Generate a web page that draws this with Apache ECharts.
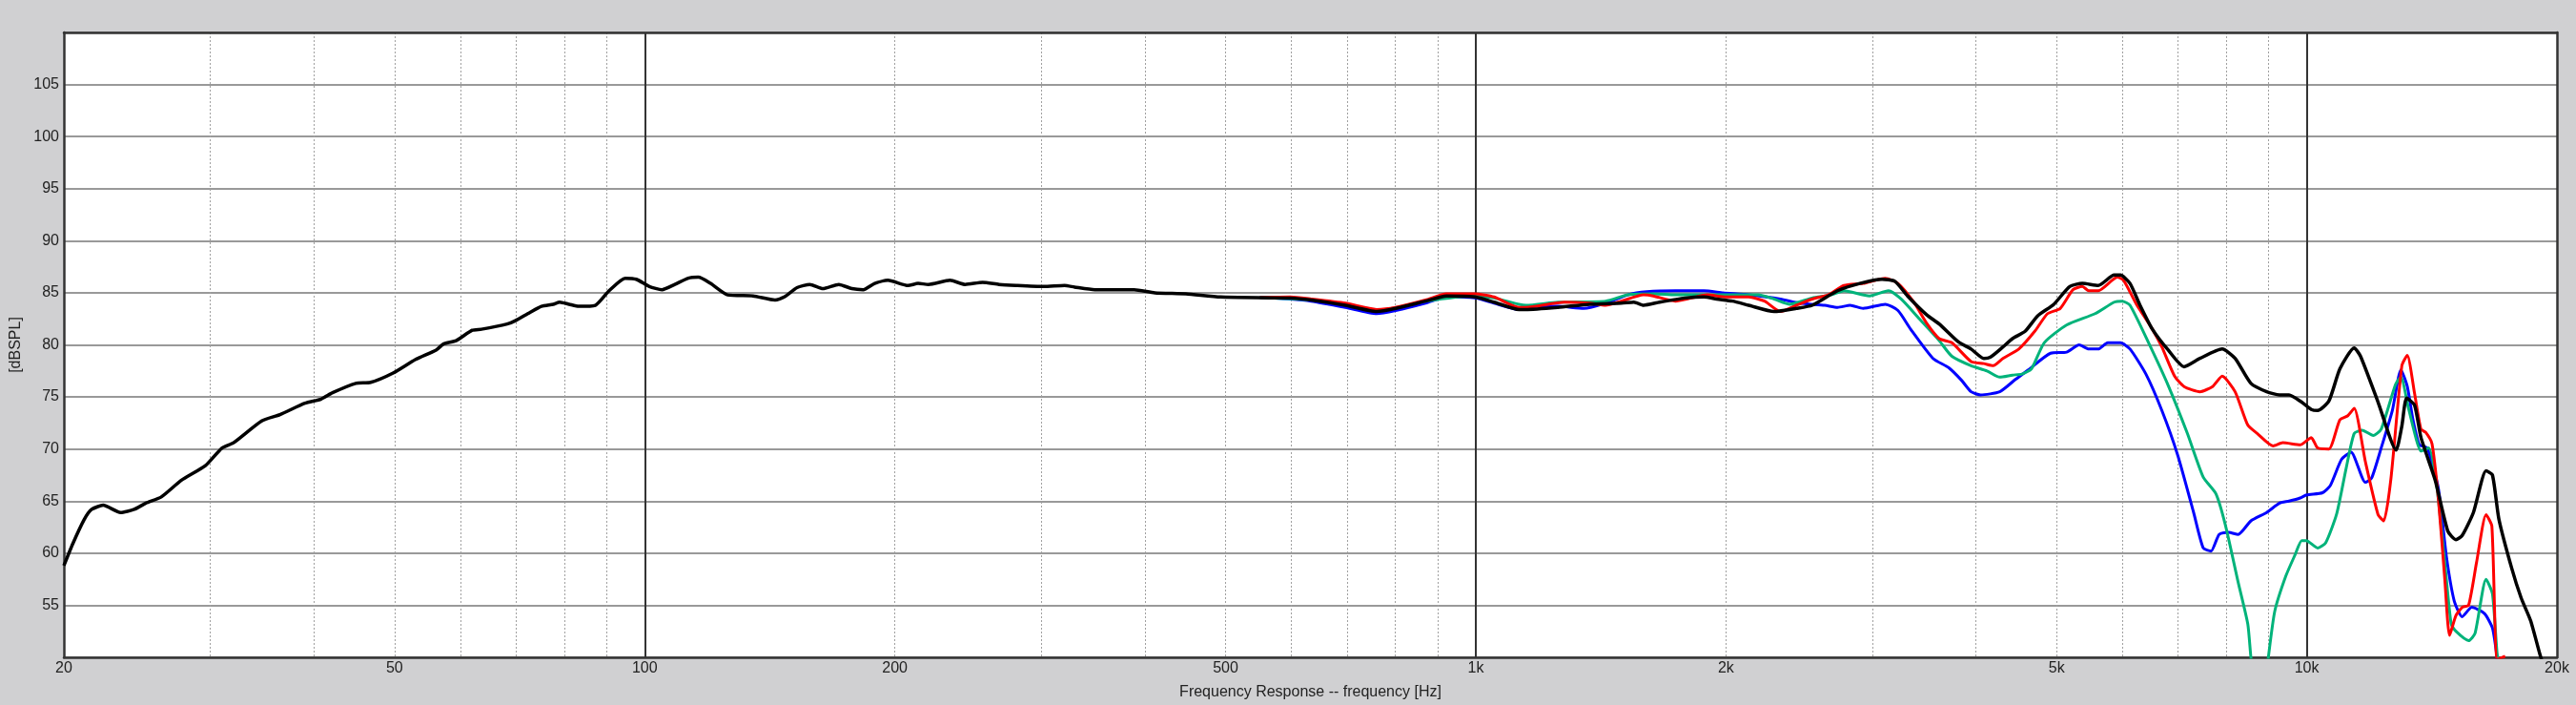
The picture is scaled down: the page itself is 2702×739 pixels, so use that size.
<!DOCTYPE html>
<html>
<head>
<meta charset="utf-8">
<script src="https://cdn.jsdelivr.net/npm/echarts@6/dist/echarts.min.js"></script>
<style>
html,body{margin:0;padding:0;background:#d0d0d2;}
#c{width:2702px;height:739px;}
</style>
</head>
<body>
<div id="c"></div>
<script>
// frequency tick labels (Hz)
var xLabelValues = [20, 50, 100, 200, 500, 1000, 2000, 5000, 10000, 20000];
// dotted minor grid frequencies
var xMinorValues = [30, 40, 50, 60, 70, 80, 90, 200, 300, 400, 500, 600, 700, 800, 900, 2000, 3000, 4000, 5000, 6000, 7000, 8000, 9000];
// solid decade grid frequencies
var xDecadeValues = [100, 1000, 10000];

// [frequency Hz, dBSPL]
var blackCurve = [[20,58.8],[20.5,60.9],[21.15,63.2],[21.6,64.2],[22.3,64.6],[23.4,63.9],[24.3,64.2],[25.1,64.8],[26.2,65.4],[27.7,67.0],[29.6,68.4],[31,70.1],[32,70.6],[34.6,72.7],[36.4,73.3],[39,74.4],[40.8,74.8],[42.1,75.4],[44.9,76.3],[46.8,76.4],[49.8,77.3],[53,78.6],[56.1,79.5],[57.3,80.1],[59.3,80.4],[62,81.4],[63.6,81.5],[68.3,82.0],[69.8,82.3],[72.7,83.1],[75.1,83.7],[77.6,83.9],[79,84.1],[81.1,83.9],[83.3,83.7],[87.2,83.8],[90.6,85.2],[94.7,86.4],[97.7,86.3],[101.3,85.6],[104.9,85.3],[108.7,85.8],[112.8,86.4],[116,86.5],[120,85.9],[125.8,84.8],[135,84.7],[143.5,84.3],[147.2,84.6],[152.5,85.5],[158,85.8],[163.8,85.4],[171.2,85.8],[177.5,85.4],[183.2,85.3],[189.1,85.9],[196.2,86.2],[207.4,85.7],[213.3,85.9],[219.5,85.8],[233,86.2],[243,85.8],[255,86.0],[267,85.8],[280,85.7],[302,85.6],[320,85.7],[329,85.55],[348,85.3],[388,85.3],[411,85.0],[448,84.9],[493,84.6],[598,84.5],[634,84.3],[697,83.8],[760,83.2],[801,83.5],[870,84.2],[922,84.7],[998,84.6],[1052,84.1],[1127,83.4],[1149,83.4],[1255,83.6],[1371,83.9],[1497,84.0],[1550,84.1],[1592,83.8],[1664,84.1],[1785,84.5],[1882,84.6],[1950,84.4],[2037,84.2],[2130,83.8],[2286,83.2],[2431,83.5],[2540,83.8],[2725,85.2],[2898,85.9],[3082,86.3],[3194,86.1],[3308,84.7],[3487,82.9],[3612,82.0],[3806,80.3],[3945,79.6],[4087,78.7],[4159,78.8],[4309,79.8],[4424,80.6],[4582,81.3],[4746,82.8],[4962,83.9],[5185,85.6],[5370,85.9],[5612,85.7],[5864,86.7],[5968,86.7],[6128,85.9],[6292,83.9],[6520,81.5],[6812,79.5],[7118,77.9],[7438,78.7],[7911,79.6],[8199,78.7],[8566,76.3],[8950,75.5],[9272,75.2],[9520,75.2],[9860,74.5],[10125,73.8],[10306,73.7],[10631,74.6],[10962,77.7],[11404,79.7],[11607,78.9],[12184,74.5],[12810,69.9],[13014,72.2],[13188,74.9],[13483,74.2],[13722,71.1],[14275,67.0],[14785,62.1],[15115,61.3],[15384,61.7],[15868,63.9],[16434,67.9],[16728,67.5],[17026,63.3],[17638,58.6],[18112,55.7],[18596,53.5],[19092,50.2],[19400,48.5]];

var redCurve = [[550,84.55],[598,84.6],[634,84.4],[697,84.0],[760,83.4],[801,83.6],[870,84.3],[922,84.9],[998,84.9],[1052,84.6],[1127,83.6],[1149,83.6],[1278,84.1],[1371,84.0],[1433,83.8],[1497,84.2],[1592,84.8],[1635,84.7],[1739,84.2],[1818,84.5],[1899,84.8],[2000,84.6],[2130,84.6],[2226,84.2],[2326,83.2],[2431,83.8],[2540,84.4],[2654,84.8],[2774,85.7],[2925,85.9],[3110,86.4],[3222,85.9],[3366,84.1],[3487,82.1],[3612,80.6],[3741,80.2],[3945,78.4],[4087,78.2],[4195,78.0],[4309,78.7],[4503,79.6],[4706,81.3],[4876,83.0],[5050,83.5],[5232,85.3],[5370,85.6],[5466,85.2],[5612,85.2],[5916,86.5],[6020,86.2],[6238,83.9],[6520,81.5],[6693,79.8],[6933,77.0],[7118,76.0],[7438,75.5],[7704,76.0],[7911,77.0],[8199,75.5],[8492,72.3],[8717,71.5],[9109,70.3],[9356,70.6],[9818,70.4],[10125,71.1],[10306,70.1],[10631,70.0],[10962,72.8],[11206,73.2],[11404,73.9],[11762,68.8],[12184,63.7],[12378,63.1],[12620,67.0],[13014,78.0],[13212,79.0],[13483,75.3],[13722,71.9],[13902,71.6],[14149,70.5],[14401,65.2],[14658,57.5],[14854,52.1],[15115,54.0],[15384,54.8],[15658,55.0],[16006,59.1],[16434,63.7],[16700,62.6],[16952,49.8],[17330,50.1]];

var greenCurve = [[550,84.55],[634,84.3],[697,83.9],[760,83.3],[870,84.2],[998,84.7],[1052,84.5],[1127,83.9],[1149,83.8],[1255,84.1],[1433,84.2],[1524,84.8],[1635,84.9],[1739,84.8],[1866,84.8],[1984,84.8],[2187,84.8],[2286,84.4],[2388,83.9],[2540,84.5],[2677,84.8],[2774,85.2],[2977,84.7],[3138,85.2],[3250,84.4],[3427,82.4],[3612,80.4],[3741,78.9],[3945,78.0],[4123,77.5],[4271,76.9],[4424,77.1],[4542,77.2],[4664,77.7],[4831,80.2],[5139,81.9],[5563,83.0],[5864,84.1],[5994,84.2],[6128,83.8],[6460,80.1],[6812,76.1],[7183,71.5],[7506,67.3],[7775,65.7],[7981,62.7],[8269,57.2],[8492,53.2],[8566,50.0],[8700,46.0],[8850,45.5],[8990,50.0],[9150,54.4],[9436,57.8],[9688,59.9],[9860,61.2],[9990,61.2],[10306,60.5],[10538,61.0],[10866,63.8],[11156,68.2],[11404,71.5],[11660,71.8],[12022,71.3],[12290,71.9],[12788,76.2],[12980,76.9],[13248,74.0],[13538,71.0],[13722,69.8],[14024,70.1],[14338,66.4],[14658,59.1],[14920,53.2],[15115,52.5],[15658,51.6],[15940,52.3],[16434,57.5],[16728,56.1],[16952,50.2],[17100,49.0]];

var blueCurve = [[550,84.55],[598,84.4],[634,84.2],[697,83.6],[760,83.0],[801,83.3],[870,84.0],[922,84.6],[998,84.5],[1052,84.0],[1127,83.4],[1149,83.7],[1255,83.7],[1349,83.5],[1433,84.0],[1524,84.8],[1606,85.1],[1739,85.2],[1882,85.2],[1984,85.0],[2130,84.8],[2326,84.4],[2452,84.0],[2630,83.8],[2725,83.6],[2822,83.8],[2925,83.5],[3110,83.9],[3222,83.3],[3337,81.5],[3550,78.7],[3709,77.8],[3842,76.6],[3945,75.5],[4050,75.2],[4271,75.5],[4464,76.7],[4623,77.6],[4918,79.2],[5139,79.3],[5323,80.0],[5466,79.6],[5612,79.6],[5761,80.2],[5968,80.2],[6128,79.6],[6404,77.2],[6693,73.7],[6994,69.4],[7309,63.9],[7506,60.5],[7670,60.2],[7844,61.8],[8052,62.0],[8269,61.8],[8566,63.1],[8950,63.9],[9272,64.8],[9520,65.0],[9818,65.3],[10000,65.6],[10446,65.8],[10676,66.5],[11011,69.0],[11305,69.7],[11762,66.8],[11967,67.2],[12290,70.1],[12675,73.7],[12980,77.6],[13212,76.0],[13422,72.8],[13660,70.4],[13963,70.1],[14401,66.2],[14723,59.7],[15048,55.4],[15384,53.9],[15796,54.8],[16362,54.2],[16728,52.8],[16952,49.8]];

var FONT = '"Liberation Sans", Arial, sans-serif';
var chart = echarts.init(document.getElementById('c'), null, {renderer: 'canvas'});

function fmtHz(v) {
  v = Math.round(v);
  return v >= 1000 ? (v / 1000) + 'k' : String(v);
}
function line(name, data, color, w) {
  return {
    name: name, type: 'line', data: data, showSymbol: false, symbol: 'none',
    smooth: 0.2, xAxisIndex: 0, yAxisIndex: 0,
    lineStyle: {color: color, width: w}, itemStyle: {color: color},
    animation: false, clip: true
  };
}

chart.setOption({
  backgroundColor: '#d0d0d2',
  animation: false,
  grid: {left: 67, right: 20, top: 34, bottom: 50, show: true, backgroundColor: '#ffffff', borderWidth: 0},
  xAxis: [
    {
      type: 'log', logBase: 10, min: 20, max: 20000, position: 'bottom', z: 1,
      name: 'Frequency Response -- frequency [Hz]', nameLocation: 'middle', nameGap: 29,
      nameTextStyle: {color: '#222', fontSize: 16, fontFamily: FONT},
      axisLine: {show: true, onZero: false, lineStyle: {color: '#333', width: 2.5}},
      axisTick: {show: false, customValues: xMinorValues},
      axisLabel: {customValues: xLabelValues, formatter: fmtHz, color: '#222', fontSize: 16, fontFamily: FONT, margin: 4},
      splitLine: {show: true, lineStyle: {color: '#a0a0a0', width: 1, type: [2, 2]}}
    },
    {
      type: 'log', logBase: 10, min: 20, max: 20000, position: 'top', z: 3,
      axisLine: {show: true, onZero: false, lineStyle: {color: '#333', width: 2.5}},
      axisTick: {show: false, customValues: xDecadeValues},
      axisLabel: {show: false},
      splitLine: {show: true, lineStyle: {color: '#333333', width: 2}}
    }
  ],
  yAxis: [
    {
      type: 'value', min: 50, max: 110, interval: 5, position: 'left', z: 0,
      name: '[dBSPL]', nameLocation: 'middle', nameGap: 42, nameRotate: 90,
      nameTextStyle: {color: '#222', fontSize: 16, fontFamily: FONT},
      axisLine: {show: true, onZero: false, lineStyle: {color: '#333', width: 2.5}},
      axisTick: {show: false},
      axisLabel: {color: '#222', fontSize: 16, fontFamily: FONT, margin: 5,
        formatter: function (v) { return (v === 50 || v === 110) ? '' : String(v); }},
      splitLine: {show: true, lineStyle: {color: '#999999', width: 2}}
    },
    {
      type: 'value', min: 50, max: 110, interval: 5, position: 'right', z: 3,
      axisLine: {show: true, onZero: false, lineStyle: {color: '#333', width: 2.5}},
      axisTick: {show: false}, axisLabel: {show: false}, splitLine: {show: false}
    }
  ],
  series: [
    line('blue', blueCurve, '#0000ff', 3),
    line('green', greenCurve, '#00b37a', 3),
    line('red', redCurve, '#ff0000', 3),
    line('black', blackCurve, '#000000', 3.5)
  ]
});
</script>
</body>
</html>
